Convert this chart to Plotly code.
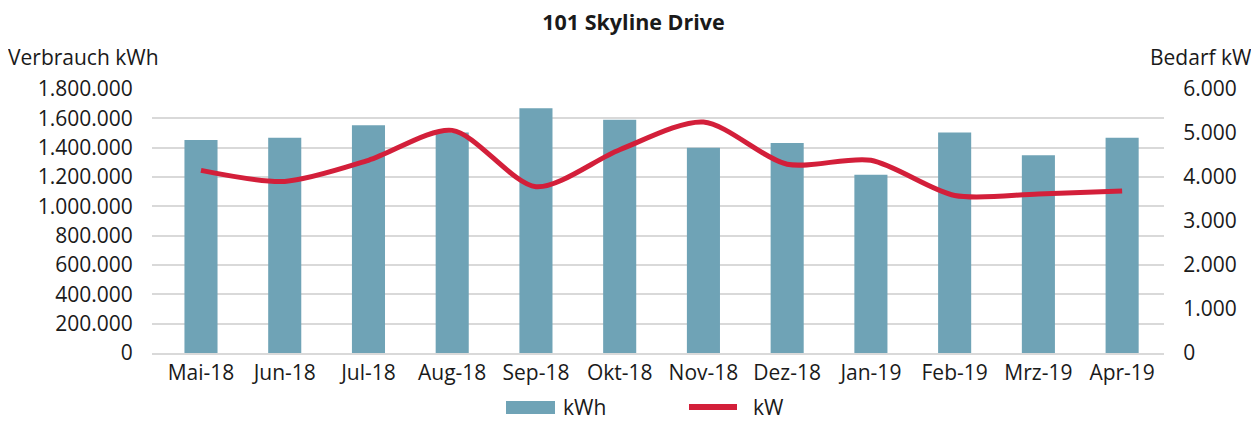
import plotly.graph_objects as go

months = ["Mai-18", "Jun-18", "Jul-18", "Aug-18", "Sep-18", "Okt-18",
          "Nov-18", "Dez-18", "Jan-19", "Feb-19", "Mrz-19", "Apr-19"]
kwh = [1452000, 1468000, 1553000, 1504000, 1669000, 1590000,
       1400000, 1431000, 1215000, 1504000, 1348000, 1467000]
kw = [4150, 3900, 4380, 5060, 3780, 4620,
      5250, 4290, 4380, 3580, 3615, 3680]

FONT = "Open Sans"
TXT = "#1a1a1a"
BAR = "#6FA3B6"
LINE = "#D31F3A"

OFF = 8  # default page body margin
W, H = 1259 - OFF, 421 - OFF
L, R, T, B = 152 - OFF, 1164 - OFF, 89 - OFF, 353 - OFF


def px(x):
    return (x - OFF - L) / (R - L)


def py(y):
    return (B - (y - OFF)) / (B - T)


fig = go.Figure()
fig.add_trace(go.Bar(x=months, y=kwh, name="kWh", marker_color=BAR,
                     marker_line_width=0, yaxis="y", showlegend=False))
fig.add_trace(go.Scatter(x=months, y=kw, name="kW", mode="lines",
                         line=dict(color=LINE, width=5, shape="spline", smoothing=0.8),
                         yaxis="y2", showlegend=False))

fs = 21
fig.update_layout(
    width=W, height=H,
    margin=dict(l=L, r=W - R, t=T, b=H - B, autoexpand=False),
    paper_bgcolor="white", plot_bgcolor="white",
    separators=",.",
    font=dict(family=FONT, size=fs, color=TXT),
    title=dict(text="<b>101 Skyline Drive</b>", x=0.5, xanchor="center",
               y=1 - (22 - OFF) / H, yanchor="middle",
               font=dict(family=FONT, size=21.5, color=TXT)),
    bargap=0.605,
    showlegend=False,
    xaxis=dict(showgrid=False, showline=True, linecolor="#D9D9D9", linewidth=1.5,
               range=[-0.585, 11.5],
               ticks="", automargin=False,
               tickfont=dict(size=fs, color=TXT)),
    yaxis=dict(range=[0, 1800000], dtick=200000, tickformat=",d",
               showgrid=True, gridcolor="#D9D9D9", gridwidth=1.5, automargin=False,
               zeroline=False, showline=False, ticks="outside", ticklen=14,
               tickcolor="white", tickfont=dict(size=fs, color=TXT)),
    yaxis2=dict(range=[0, 6000], dtick=1000, tickformat=",d", overlaying="y",
                side="right", showgrid=False, zeroline=False, showline=False,
                automargin=False, ticks="outside", ticklen=14, tickcolor="white",
                tickfont=dict(size=fs, color=TXT)),
    shapes=[
        dict(type="rect", xref="paper", yref="paper", x0=px(506), x1=px(555),
             y0=py(414), y1=py(401), fillcolor=BAR, line_width=0),
        dict(type="line", xref="paper", yref="paper", x0=px(689), x1=px(737),
             y0=py(407), y1=py(407), line=dict(color=LINE, width=6)),
    ],
    annotations=[
        dict(text="Verbrauch kWh", xref="paper", yref="paper", x=px(6), y=py(57),
             xanchor="left", yanchor="middle", showarrow=False,
             font=dict(size=fs, color=TXT)),
        dict(text="Bedarf kW", xref="paper", yref="paper", x=px(1254), y=py(57),
             xanchor="right", yanchor="middle", showarrow=False,
             font=dict(size=fs, color=TXT)),
        dict(text="kWh", xref="paper", yref="paper", x=px(561), y=py(407),
             xanchor="left", yanchor="middle", showarrow=False,
             font=dict(size=fs, color=TXT)),
        dict(text="kW", xref="paper", yref="paper", x=px(751), y=py(407),
             xanchor="left", yanchor="middle", showarrow=False,
             font=dict(size=fs, color=TXT)),
    ],
)

fig.write_html("out.html")
